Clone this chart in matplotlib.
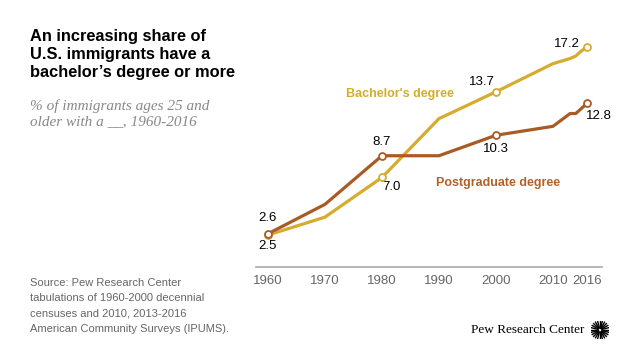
import matplotlib
matplotlib.use("Agg")
import matplotlib.pyplot as plt
import numpy as np

years_bach = [1960, 1970, 1980, 1990, 2000, 2010, 2013, 2014, 2015, 2016]
bachelor = [2.5, 3.9, 7.0, 11.6, 13.7, 15.9, 16.3, 16.5, 16.9, 17.2]
years_post = [1960, 1970, 1980, 1990, 2000, 2010, 2013, 2014, 2015, 2016]
postgrad = [2.6, 4.9, 8.7, 8.7, 10.3, 11.0, 12.0, 12.0, 12.4, 12.8]
tick_years = [1960, 1970, 1980, 1990, 2000, 2010, 2016]
marker_years = [1960, 1980, 2000, 2016]

GOLD = "#D5AC2E"
BROWN = "#A95B26"
SANS = "Liberation Sans"

fig = plt.figure(figsize=(6.4, 3.6), dpi=100)
ax = fig.add_axes([0.4, 0.2583, 0.5406, 0.6395])
ax.set_xlim(1957.9, 2018.6)
ax.set_ylim(0, 18)

ax.plot(years_bach, bachelor, color=GOLD, lw=2.3, solid_capstyle="butt", zorder=3)
ax.plot(years_post, postgrad, color=BROWN, lw=2.3, solid_capstyle="butt", zorder=4)

for yrs, vals, c, z in [(years_bach, bachelor, GOLD, 5), (years_post, postgrad, BROWN, 6)]:
    mx = [y for y in yrs if y in marker_years]
    my = [v for y, v in zip(yrs, vals) if y in marker_years]
    ax.plot(mx, my, ls="none", marker="o", ms=5, mfc="white", mec=c, mew=1.3, zorder=z)

for s in ["top", "right", "left"]:
    ax.spines[s].set_visible(False)
ax.spines["bottom"].set_color("#aaaaaa")
ax.spines["bottom"].set_linewidth(1.2)
ax.set_yticks([])
ax.set_xticks(tick_years)
ax.set_xticklabels([str(t) for t in tick_years], fontsize=9.5, color="#666666", fontfamily=SANS)
ax.tick_params(axis="x", length=0, pad=6)

fs = 9.5
def lab(x, y, txt, ha="center", va="center", dx=0, dy=0):
    ax.annotate(txt, (x, y), xytext=(dx, dy), textcoords="offset points",
                ha=ha, va=va, fontsize=fs, color="black", fontfamily=SANS)

b = dict(zip(years_bach, bachelor))
p = dict(zip(years_post, postgrad))
lab(1960, p[1960], f"{p[1960]:.1f}", dy=11)
lab(1960, b[1960], f"{b[1960]:.1f}", dy=-8)
lab(1980, b[1980], f"{b[1980]:.1f}", dx=7, dy=-7)
lab(1980, p[1980], f"{p[1980]:.1f}", dy=10)
lab(2000, p[2000], f"{p[2000]:.1f}", dy=-10)
lab(2000, b[2000], f"{b[2000]:.1f}", dx=-10, dy=7)
lab(2016, b[2016], f"{b[2016]:.1f}", ha="right", dx=-5, dy=2)
lab(2016, p[2016], f"{p[2016]:.1f}", ha="left", dx=-1, dy=-9)

ax.text(1983.1, 13.5, "Bachelor's degree", color=GOLD, fontsize=9, fontweight="bold",
        ha="center", va="center", fontfamily=SANS)
ax.text(2000.3, 6.6, "Postgraduate degree", color="#B0622A", fontsize=9, fontweight="bold",
        ha="center", va="center", fontfamily=SANS)

fig.text(30/640, 1-29/360, "An increasing share of\nU.S. immigrants have a\nbachelor\u2019s degree or more",
         fontsize=11.8, fontweight="bold", fontfamily=SANS, va="top", ha="left",
         linespacing=1.25, color="black")
fig.text(30/640, 1-99/360, "% of immigrants ages 25 and\nolder with a __, 1960-2016",
         fontsize=11, fontstyle="italic", fontfamily="Liberation Serif", va="top", ha="left",
         linespacing=1.2, color="#888888")
fig.text(30/640, 1-278/360,
         "Source: Pew Research Center\ntabulations of 1960-2000 decennial\ncensuses and 2010, 2013-2016\nAmerican Community Surveys (IPUMS).",
         fontsize=8, fontfamily=SANS, va="top", ha="left", linespacing=1.65, color="#666666")
fig.text(584/640, 1-330/360, "Pew Research Center", fontsize=9.5, fontfamily="Liberation Serif",
         ha="right", va="center", color="black")

lax = fig.add_axes([591/640, 1-339/360, 18/640, 18/360])
lax.set_xlim(-1, 1); lax.set_ylim(-1, 1); lax.axis("off")
for a in np.linspace(0, 2*np.pi, 24, endpoint=False):
    lax.plot([0.25*np.cos(a), np.cos(a)], [0.25*np.sin(a), np.sin(a)], color="black", lw=1.0)

fig.savefig("out.png", dpi=100)
